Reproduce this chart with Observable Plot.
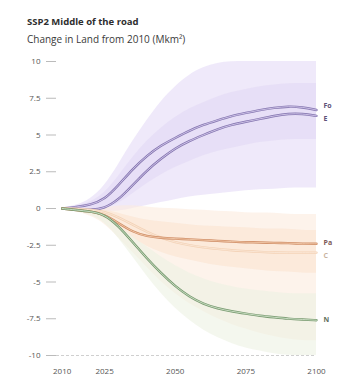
<!DOCTYPE html>
<html>
<head>
<meta charset="utf-8">
<script src="https://cdn.jsdelivr.net/npm/d3@7"></script>
<script src="https://cdn.jsdelivr.net/npm/@observablehq/plot@0.6"></script>
<style>
  body { margin: 0; background: #fff; font-family: "Open Sans", "DejaVu Sans", sans-serif; }
  #wrap { position: relative; width: 338px; height: 389px; overflow: hidden; }
  #title { position: absolute; left: 27px; top: 15px; font-size: 9.5px; font-weight: 700; color: #2e2e2e; white-space: nowrap; }
  #subtitle { position: absolute; left: 27px; top: 32px; font-size: 10px; color: #3a3a3a; white-space: nowrap; }
  #chart { position: absolute; left: 0; top: 45px; }
</style>
</head>
<body>
<div id="wrap">
  <div id="title">SSP2 Middle of the road</div>
  <div id="subtitle">Change in Land from 2010 (Mkm²)</div>
  <div id="chart"></div>
</div>
<script>
const years = [2010, 2015, 2020, 2025, 2030, 2035, 2040, 2045, 2050, 2055, 2060, 2065, 2070, 2075, 2080, 2085, 2090, 2095, 2100];

// Median change per land type (Mkm²)
const forest   = [0, 0.1, 0.25, 0.6, 1.6, 2.7, 3.6, 4.3, 4.8, 5.3, 5.7, 6.0, 6.3, 6.5, 6.7, 6.85, 6.95, 6.9, 6.7];
const energy   = [0, -0.05, -0.1, 0.0, 0.6, 1.6, 2.6, 3.4, 4.1, 4.6, 5.0, 5.4, 5.7, 5.9, 6.1, 6.3, 6.45, 6.45, 6.3];
const pasture  = [0, -0.1, -0.2, -0.4, -1.0, -1.6, -1.9, -2.0, -2.05, -2.1, -2.15, -2.2, -2.25, -2.3, -2.3, -2.35, -2.35, -2.4, -2.4];
const cropland = [0, 0, -0.1, -0.2, -0.6, -1.1, -1.6, -2.0, -2.3, -2.5, -2.65, -2.75, -2.85, -2.9, -2.95, -3.0, -3.0, -3.0, -3.0];
const natural  = [0, -0.1, -0.2, -0.4, -1.2, -2.3, -3.4, -4.4, -5.3, -6.0, -6.5, -6.8, -7.0, -7.15, -7.3, -7.4, -7.5, -7.55, -7.6];

// Model ranges (outer spread and inner spread)
const gainHi  = [0, 0.2, 0.6, 1.5, 3.0, 4.6, 6.0, 7.3, 8.3, 9.1, 9.6, 9.9, 10, 10, 10, 10, 10, 10, 10];
const gainLo  = [0, 0, -0.1, -0.2, -0.2, 0.0, 0.2, 0.4, 0.6, 0.8, 0.9, 1.0, 1.1, 1.2, 1.3, 1.3, 1.4, 1.4, 1.4];
const gainHi2 = [0, 0.15, 0.4, 1.0, 2.2, 3.5, 4.6, 5.5, 6.2, 6.8, 7.2, 7.6, 7.9, 8.1, 8.3, 8.4, 8.5, 8.5, 8.5];
const gainLo2 = [0, 0, 0, 0, 0.3, 1.0, 1.7, 2.3, 2.8, 3.2, 3.6, 3.9, 4.1, 4.3, 4.5, 4.6, 4.7, 4.7, 4.7];
const lossHi  = [0, 0, 0, 0, 0.2, 0.2, 0.1, 0, 0, -0.1, -0.1, -0.2, -0.2, -0.3, -0.3, -0.3, -0.4, -0.4, -0.4];
const lossLo  = [0, -0.2, -0.5, -1.0, -2.0, -3.0, -4.0, -5.0, -5.8, -6.5, -7.0, -7.5, -7.9, -8.2, -8.5, -8.7, -8.9, -9.0, -9.0];
const lossHi2 = [0, 0, 0, -0.1, -0.3, -0.6, -0.8, -0.9, -1.0, -1.1, -1.2, -1.2, -1.3, -1.3, -1.4, -1.4, -1.4, -1.5, -1.5];
const lossLo2 = [0, -0.1, -0.3, -0.6, -1.3, -2.0, -2.6, -3.0, -3.3, -3.5, -3.7, -3.9, -4.0, -4.1, -4.2, -4.3, -4.3, -4.4, -4.4];
const natHi   = [0, -0.1, -0.3, -0.6, -1.2, -1.9, -2.6, -3.3, -3.9, -4.4, -4.8, -5.1, -5.3, -5.5, -5.6, -5.7, -5.8, -5.8, -5.8];
const natLo   = [0, -0.2, -0.4, -0.9, -2.0, -3.3, -4.6, -5.8, -6.8, -7.6, -8.3, -8.8, -9.2, -9.5, -9.7, -9.9, -10, -10, -10];

const yTicks = [10, 7.5, 5, 2.5, 0, -2.5, -5, -7.5, -10];
const xTicks = [2010, 2025, 2050, 2075, 2100];

const series = [
  {key: "Fo", values: forest,   stroke: "#8576b0", inner: "#ddd3f2", label: "#5e5378", dy: -4},
  {key: "E",  values: energy,   stroke: "#8576b0", inner: "#ddd3f2", label: "#5e5378", dy: 3},
  {key: "C",  values: cropland, stroke: "#f3d2b6", inner: "#fbeadb", label: "#c9b3a0", dy: 3},
  {key: "Pa", values: pasture,  stroke: "#cf8d66", inner: "#f6d2b4", label: "#7d5a58", dy: -1},
  {key: "N",  values: natural,  stroke: "#789a70", inner: "#dcecd6", label: "#5f6f5c", dy: 0}
];

const rows = series.flatMap(s => years.map((yr, i) => ({key: s.key, year: yr, value: s.values[i]})));
const band = (lo, hi) => years.map((yr, i) => ({year: yr, lo: lo[i], hi: hi[i]}));

const marks = [
  Plot.areaY(band(gainLo, gainHi), {x: "year", y1: "lo", y2: "hi", fill: "#e4dbf6", fillOpacity: 0.6, curve: "basis"}),
  Plot.areaY(band(gainLo2, gainHi2), {x: "year", y1: "lo", y2: "hi", fill: "#d9cdf2", fillOpacity: 0.35, curve: "basis"}),
  Plot.areaY(band(lossLo, lossHi), {x: "year", y1: "lo", y2: "hi", fill: "#fcebdd", fillOpacity: 0.6, curve: "basis"}),
  Plot.areaY(band(lossLo2, lossHi2), {x: "year", y1: "lo", y2: "hi", fill: "#fadcc4", fillOpacity: 0.4, curve: "basis"}),
  Plot.areaY(band(natLo, natHi), {x: "year", y1: "lo", y2: "hi", fill: "#ecf1e2", fillOpacity: 0.6, curve: "basis"}),
  Plot.ruleY([-10], {stroke: "#cfcfcf", strokeDasharray: "3,2"})
];
for (const s of series) {
  const d = rows.filter(r => r.key === s.key);
  marks.push(Plot.line(d, {x: "year", y: "value", stroke: s.stroke, strokeWidth: 2.4, curve: "basis"}));
  marks.push(Plot.line(d, {x: "year", y: "value", stroke: s.inner, strokeWidth: 0.8, curve: "basis"}));
  marks.push(Plot.text([d[d.length - 1]], {x: "year", y: "value", text: "key", fill: s.label,
    dx: 7, dy: s.dy, textAnchor: "start", fontSize: 7, fontWeight: 700}));
}
marks.push(Plot.axisY({ticks: yTicks, tickSize: 10, tickPadding: 6, fontSize: 8, stroke: "#bbb", color: "#555",
  label: null, tickFormat: d => String(d)}));
marks.push(Plot.axisX({ticks: xTicks, tickSize: 0, tickPadding: 13, fontSize: 8, color: "#555",
  label: null, tickFormat: d => String(d)}));

const chart = Plot.plot({
  width: 338,
  height: 344,
  marginLeft: 56,
  marginRight: 22,
  marginTop: 16,
  marginBottom: 34,
  x: {domain: [2008, 2100], label: null},
  y: {domain: [-10, 10], label: null},
  style: {fontFamily: "Open Sans, DejaVu Sans, sans-serif", background: "transparent", overflow: "visible"},
  marks
});
document.getElementById("chart").appendChild(chart);
</script>
</body>
</html>
